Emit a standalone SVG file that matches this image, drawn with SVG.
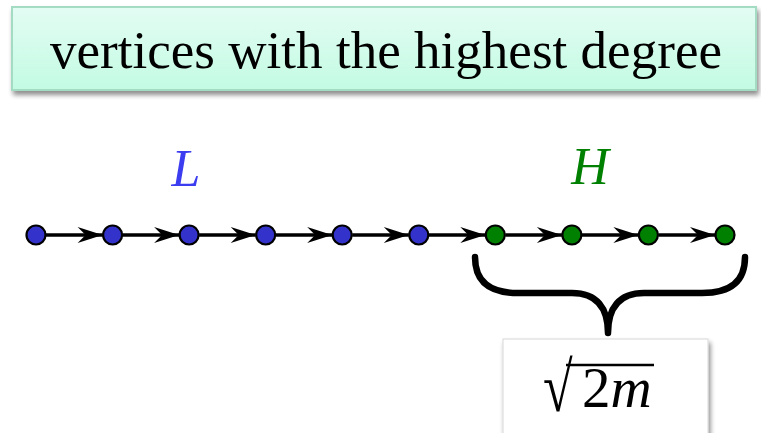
<svg xmlns="http://www.w3.org/2000/svg" width="761" height="433" viewBox="0 0 761 433">
<style>
.lo{fill:#3333cc;stroke:#000;stroke-width:2.2}
.hi{fill:#008000;stroke:#000;stroke-width:2.2}
.edge{stroke:#000;stroke-width:3.5;fill:none;marker-end:url(#arr)}
.serif{font-family:"Liberation Serif","Times New Roman",serif}
</style>
<defs>
<linearGradient id="g" x1="0" y1="0" x2="0" y2="1">
<stop offset="0" stop-color="#e3fcf3"/>
<stop offset="1" stop-color="#c3fbe3"/>
</linearGradient>
<filter id="sh" x="-5%" y="-20%" width="110%" height="150%">
<feGaussianBlur in="SourceAlpha" stdDeviation="2.5"/>
<feOffset dx="2" dy="4" result="b"/>
<feComponentTransfer><feFuncA type="linear" slope="0.45"/></feComponentTransfer>
<feMerge><feMergeNode/><feMergeNode in="SourceGraphic"/></feMerge>
</filter>
<marker id="arr" markerUnits="userSpaceOnUse" markerWidth="30" markerHeight="20" viewBox="-26 -10 28 20" refX="0" refY="0" orient="auto">
<path d="M0,0 L-25,-8 L-17,0 L-25,8 Z" fill="#000"/>
</marker>
</defs>

<g id="title">
<rect x="12" y="7" width="744" height="83" fill="url(#g)" stroke="#a3dcc3" stroke-width="2" filter="url(#sh)"/>
<text class="serif" x="50" y="68" font-size="53" textLength="672" lengthAdjust="spacingAndGlyphs" fill="#000">vertices with the highest degree</text>
</g>

<g id="labels">
<text class="serif" x="186" y="186" font-size="52" font-style="italic" fill="#3c3cf0" text-anchor="middle">L</text>
<text class="serif" x="590" y="184" font-size="52" font-style="italic" fill="#008000" text-anchor="middle">H</text>
</g>

<g id="connectors">
<line class="edge" x1="46" y1="235" x2="102.6" y2="235"/>
<line class="edge" x1="122.6" y1="235" x2="179.1" y2="235"/>
<line class="edge" x1="199.1" y1="235" x2="255.7" y2="235"/>
<line class="edge" x1="275.7" y1="235" x2="332.2" y2="235"/>
<line class="edge" x1="352.2" y1="235" x2="408.8" y2="235"/>
<line class="edge" x1="428.8" y1="235" x2="485.3" y2="235"/>
<line class="edge" x1="505.3" y1="235" x2="561.9" y2="235"/>
<line class="edge" x1="581.9" y1="235" x2="638.4" y2="235"/>
<line class="edge" x1="658.4" y1="235" x2="715" y2="235"/>
</g>

<g id="n0"><circle class="lo" cx="36" cy="235" r="9.5"/></g>
<g id="n1"><circle class="lo" cx="112.6" cy="235" r="9.5"/></g>
<g id="n2"><circle class="lo" cx="189.1" cy="235" r="9.5"/></g>
<g id="n3"><circle class="lo" cx="265.7" cy="235" r="9.5"/></g>
<g id="n4"><circle class="lo" cx="342.2" cy="235" r="9.5"/></g>
<g id="n5"><circle class="lo" cx="418.8" cy="235" r="9.5"/></g>
<g id="n6"><circle class="hi" cx="495.3" cy="235" r="9.5"/></g>
<g id="n7"><circle class="hi" cx="571.9" cy="235" r="9.5"/></g>
<g id="n8"><circle class="hi" cx="648.4" cy="235" r="9.5"/></g>
<g id="n9"><circle class="hi" cx="725" cy="235" r="9.5"/></g>

<g id="brace">
<path d="M475,257 C475,282 490,293 518,293 L572,293 C597,293 608,308 608,333 C608,308 619,293 644,293 L702,293 C730,293 745,282 745,257" fill="none" stroke="#000" stroke-width="6.5" stroke-linecap="round" stroke-linejoin="round"/>
</g>

<g id="size">
<rect x="503" y="339" width="205" height="110" fill="#fff" stroke="#d8d8d8" stroke-width="1" filter="url(#sh)"/>
<text class="serif" transform="translate(543,411) scale(1,1.3)" x="0" y="0" font-size="54" fill="#000">√</text>
<line x1="566" y1="365" x2="654" y2="365" stroke="#000" stroke-width="2.5"/>
<text class="serif" x="582" y="407" font-size="57" fill="#000">2<tspan font-style="italic">m</tspan></text>
</g>
</svg>
